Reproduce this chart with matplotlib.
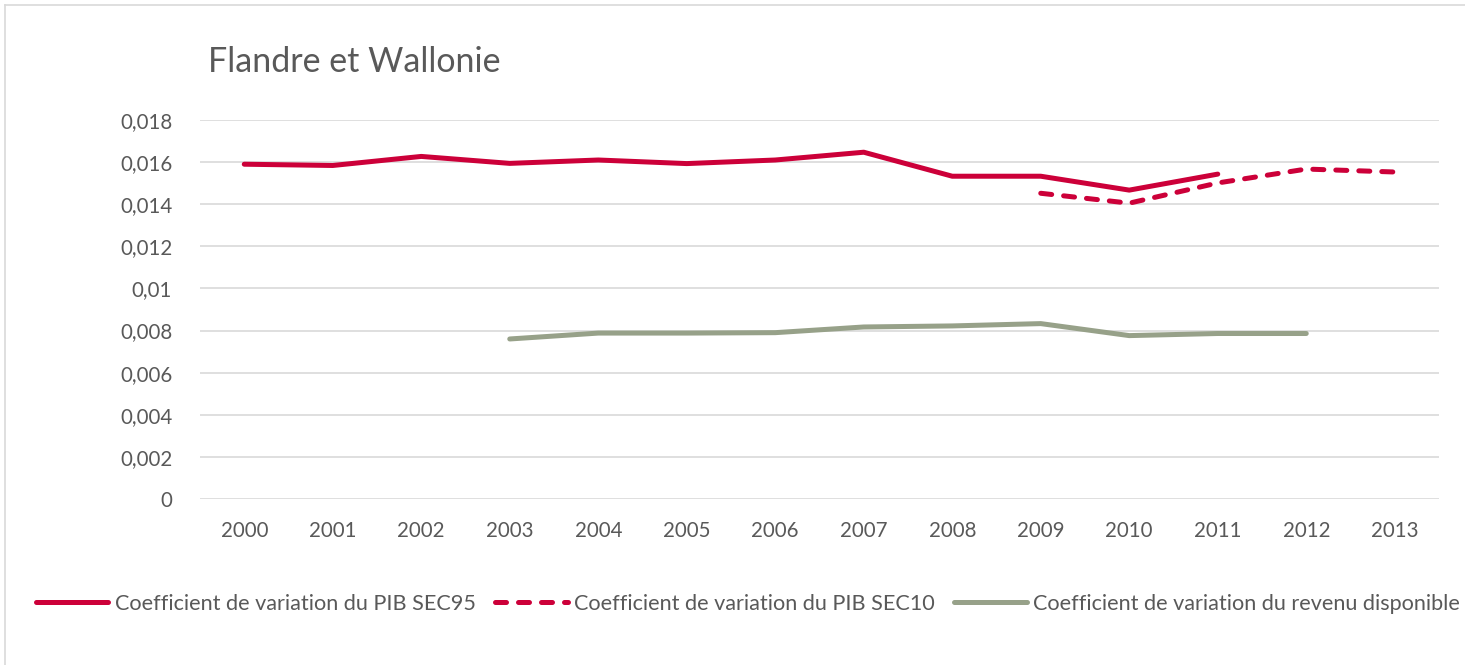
import matplotlib.pyplot as plt
import numpy as np
from matplotlib.ticker import FuncFormatter

years = [str(y) for y in range(2000, 2014)]

# coefficient de variation
pib_sec95 = [0.0159, 0.01584, 0.01627, 0.01594, 0.0161, 0.01593, 0.0161, 0.01647,
             0.01533, 0.01533, 0.01467, 0.01543, None, None]
pib_sec10 = [None, None, None, None, None, None, None, None,
             None, 0.01452, 0.01405, 0.01501, 0.01567, 0.01553]
revenu_disp = [None, None, None, 0.0076, 0.00788, 0.00788, 0.0079, 0.00817,
               0.00822, 0.00833, 0.00776, 0.00786, 0.00786, None]

labels = ["Coefficient de variation du PIB SEC95",
          "Coefficient de variation du PIB SEC10",
          "Coefficient de variation du revenu disponible"]

red = "#CC0039"
green = "#97A189"
txt = "#595959"

plt.rcParams['font.family'] = ['Lato', 'DejaVu Sans']

fig = plt.figure(figsize=(14.65, 6.65), dpi=100)
ax = fig.add_axes([200 / 1465, 1 - 499 / 665, 1239 / 1465, 379 / 665])

x = np.arange(len(years))


def arr(v):
    return np.array([np.nan if a is None else a for a in v], dtype=float)


ax.plot(x, arr(pib_sec95), color=red, lw=3.6, solid_capstyle='round',
        solid_joinstyle='round', label=labels[0], zorder=3)
ax.plot(x, arr(pib_sec10), color=red, lw=3.6, dashes=(2.2, 2.4),
        dash_capstyle='round', label=labels[1], zorder=3)
ax.plot(x, arr(revenu_disp), color=green, lw=3.6, solid_capstyle='round',
        solid_joinstyle='round', label=labels[2], zorder=3)

ax.set_xlim(-0.5, len(years) - 0.5)
ax.set_ylim(0, 0.018)
ax.set_yticks(np.arange(0, 0.0181, 0.002))
ax.yaxis.set_major_formatter(FuncFormatter(
    lambda v, p: "0" if abs(v) < 1e-12 else ("%g" % round(v, 3)).replace(".", ",")))
ax.set_xticks(x)
ax.set_xticklabels(years)
ax.grid(axis='y', color="#D9D9D9", lw=1.2)
ax.set_axisbelow(True)
for s in ax.spines.values():
    s.set_visible(False)
ax.tick_params(length=0, labelsize=14.8, colors=txt)
ax.tick_params(axis='x', pad=16)
ax.tick_params(axis='y', pad=20)

fig.text(208 / 1465, 1 - 62 / 665, "Flandre et Wallonie", fontsize=24.5,
         color=txt, va='center', ha='left')

leg = fig.legend(loc='center', bbox_to_anchor=(748 / 1465, 1 - 604 / 665), ncol=3,
                 frameon=False, fontsize=15.6, handlelength=3.35,
                 handletextpad=0.3, columnspacing=0.9)
for t in leg.get_texts():
    t.set_color(txt)

# cadre du graphique
fig.add_artist(plt.Line2D([5 / 1465, 5 / 1465], [0, 1 - 5 / 665],
                          transform=fig.transFigure, color="#D9D9D9", lw=1.2))
fig.add_artist(plt.Line2D([5 / 1465, 1], [1 - 5 / 665, 1 - 5 / 665],
                          transform=fig.transFigure, color="#D9D9D9", lw=1.2))

fig.savefig("out.png", dpi=100)
